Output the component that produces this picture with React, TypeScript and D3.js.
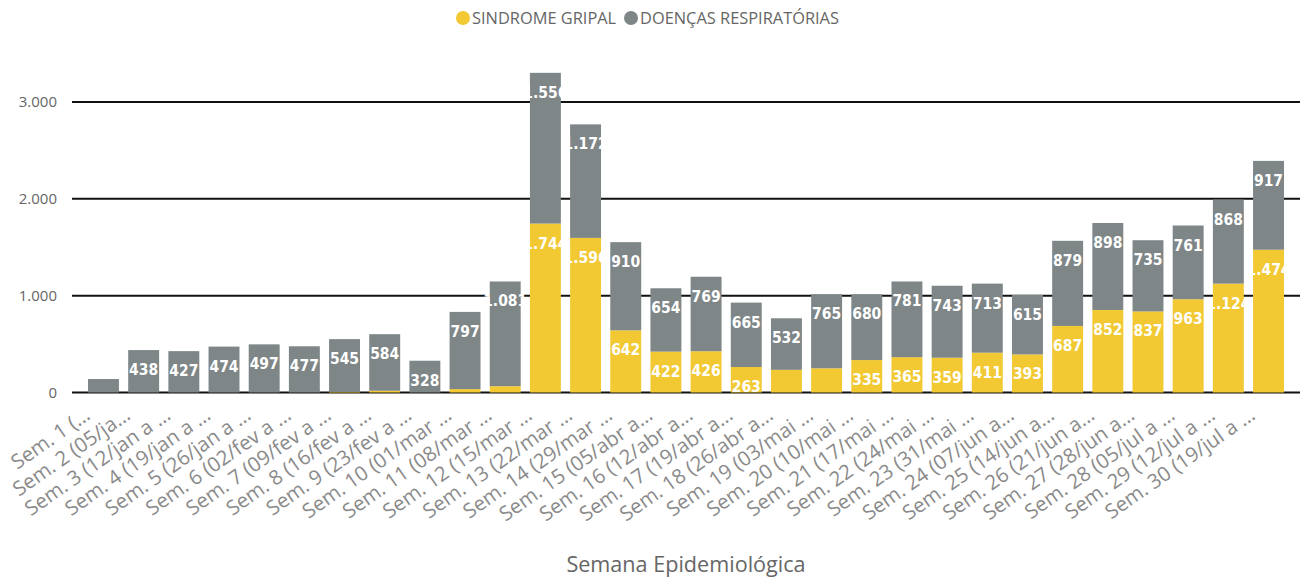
import React from "react";
import * as d3 from "d3";

const categories = [
  "Sem. 1 (…", "Sem. 2 (05/ja…", "Sem. 3 (12/jan a …", "Sem. 4 (19/jan a …", "Sem. 5 (26/jan a …",
  "Sem. 6 (02/fev a …", "Sem. 7 (09/fev a …", "Sem. 8 (16/fev a …", "Sem. 9 (23/fev a …", "Sem. 10 (01/mar …",
  "Sem. 11 (08/mar …", "Sem. 12 (15/mar …", "Sem. 13 (22/mar …", "Sem. 14 (29/mar …", "Sem. 15 (05/abr a…",
  "Sem. 16 (12/abr a…", "Sem. 17 (19/abr a…", "Sem. 18 (26/abr a…", "Sem. 19 (03/mai …", "Sem. 20 (10/mai …",
  "Sem. 21 (17/mai …", "Sem. 22 (24/mai …", "Sem. 23 (31/mai …", "Sem. 24 (07/jun a…", "Sem. 25 (14/jun a…",
  "Sem. 26 (21/jun a…", "Sem. 27 (28/jun a…", "Sem. 28 (05/jul a …", "Sem. 29 (12/jul a …", "Sem. 30 (19/jul a …",
];

const sindromeGripal = [
  0, 0, 0, 0, 0, 0, 6, 18, 0, 35,
  65, 1744, 1596, 642, 422, 426, 263, 234, 250, 335,
  365, 359, 411, 393, 687, 852, 837, 963, 1124, 1474,
];

const doencasRespiratorias = [
  139, 438, 427, 474, 497, 477, 545, 584, 328, 797,
  1081, 1556, 1172, 910, 654, 769, 665, 532, 765, 680,
  781, 743, 713, 615, 879, 898, 735, 761, 868, 917,
];

const yTicks = [0, 1000, 2000, 3000];
const seriesNames = ["SINDROME GRIPAL", "DOENÇAS RESPIRATÓRIAS"];

const YELLOW = "#F2C933";
const GRAY = "#7E8687";

const fmt = (v: number) => d3.format(",")(v).replace(/,/g, ".");

export default function App() {
  const W = 1302;
  const H = 578;
  const x = d3
    .scaleBand<number>()
    .domain(d3.range(categories.length))
    .range([83.4, 1288.6])
    .paddingInner(0.23)
    .paddingOuter(0.115);
  const y = d3.scaleLinear().domain([0, 3000]).range([392.5, 101.9]);
  const bw = x.bandwidth();

  return (
    <svg width={W} height={H} style={{ position: "absolute", left: 0, top: 0, background: "#fff" }}>
      {/* legend */}
      <g fontFamily="'Open Sans', sans-serif" fontSize={16.4} fill="#666">
        <circle cx={463} cy={18} r={7} fill={YELLOW} />
        <text x={472} y={24}>{seriesNames[0]}</text>
        <circle cx={631} cy={18} r={7} fill={GRAY} />
        <text x={640} y={24}>{seriesNames[1]}</text>
      </g>

      {/* gridlines */}
      {yTicks.map((t) => (
        <g key={t}>
          <line x1={72} x2={1300} y1={y(t)} y2={y(t)} stroke="#111" strokeWidth={2} />
          <text
            x={57}
            y={y(t) + 5}
            textAnchor="end"
            fontFamily="'Open Sans', sans-serif"
            fontSize={15}
            fill="#666"
          >
            {fmt(t)}
          </text>
        </g>
      ))}

      {/* bars */}
      {categories.map((c, i) => {
        const sg = sindromeGripal[i];
        const dr = doencasRespiratorias[i];
        const x0 = x(i)!;
        const ySg = y(sg);
        const yTot = y(sg + dr);
        return (
          <g key={c}>
            {sg > 0 && <rect x={x0} y={ySg} width={bw} height={y(0) - ySg} fill={YELLOW} />}
            <rect x={x0} y={yTot} width={bw} height={ySg - yTot} fill={GRAY} />
          </g>
        );
      })}

      {/* labels */}
      {categories.map((c, i) => {
        const sg = sindromeGripal[i];
        const dr = doencasRespiratorias[i];
        const cx = x(i)! + bw / 2;
        return (
          <g
            key={"l" + c}
            fontFamily="'DejaVu Sans Condensed', 'DejaVu Sans', sans-serif"
            fontWeight="bold"
            fontSize={15.5}
            fill="#fff"
            textAnchor="middle"
          >
            {dr >= 300 && <text x={cx} y={y(sg + dr) + 25}>{fmt(dr)}</text>}
            {sg >= 255 && <text x={cx} y={y(sg) + 25}>{fmt(sg)}</text>}
          </g>
        );
      })}

      {/* x labels */}
      {categories.map((c, i) => {
        const cx = x(i)! + bw / 2 - 12;
        const ty = 418;
        return (
          <text
            key={"x" + c}
            transform={`translate(${cx},${ty}) rotate(-35)`}
            textAnchor="end"
            fontFamily="'Open Sans', sans-serif"
            fontSize={20.3}
            fill="#8a8a8a"
          >
            {c}
          </text>
        );
      })}

      <text
        x={686}
        y={572}
        textAnchor="middle"
        fontFamily="'Open Sans', sans-serif"
        fontSize={21.6}
        fill="#666"
      >
        Semana Epidemiológica
      </text>
    </svg>
  );
}
